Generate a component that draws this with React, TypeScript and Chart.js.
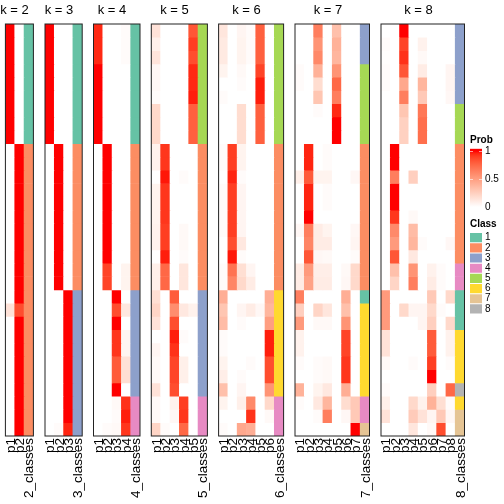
import React, { useEffect, useRef } from "react";
import { Chart, registerables } from "chart.js";

Chart.register(...registerables);

const FONT = "'Liberation Sans', Arial, sans-serif";
const classColors = ["#66C2A5", "#FC8D62", "#8DA0CB", "#E78AC3", "#A6D854", "#FFD92F", "#E5C494", "#B3B3B3"];
const classLabels = ["1", "2", "3", "4", "5", "6", "7", "8"];

const probK2 = [
  [1, 0], [1, 0], [1, 0], [1, 0], [1, 0], [1, 0], [1, 0], [1, 0], [1, 0],
  [0, 1], [0, 1], [0, 1], [0, 1], [0, 1], [0, 1], [0, 1], [0, 1], [0, 1], [0, 1], [0, 1], [0, 1],
  [0.15, 0.85],
  [0, 1], [0, 1], [0, 1], [0, 1], [0, 1], [0, 1], [0, 1], [0, 1], [0, 1],
];
const classK2 = [1, 1, 1, 1, 1, 1, 1, 1, 1, 2, 2, 2, 2, 2, 2, 2, 2, 2, 2, 2, 2, 2, 2, 2, 2, 2, 2, 2, 2, 2, 2];

const probK3 = [
  [1, 0, 0], [1, 0, 0], [1, 0, 0], [1, 0, 0], [1, 0, 0], [1, 0, 0], [1, 0, 0], [1, 0, 0], [1, 0, 0],
  [0, 1, 0], [0, 1, 0], [0, 1, 0], [0, 1, 0], [0, 1, 0], [0, 1, 0], [0, 1, 0], [0, 1, 0], [0, 1, 0], [0, 1, 0], [0, 1, 0],
  [0, 0, 1], [0, 0, 1], [0, 0, 1], [0, 0, 1], [0, 0, 1], [0, 0, 1], [0, 0, 1], [0, 0, 1], [0, 0, 1], [0, 0, 1],
  [0, 0.02, 0.96],
];
const classK3 = [1, 1, 1, 1, 1, 1, 1, 1, 1, 2, 2, 2, 2, 2, 2, 2, 2, 2, 2, 2, 3, 3, 3, 3, 3, 3, 3, 3, 3, 3, 3];

const probK4 = [
  [0.95, 0, 0, 0.02], [0.95, 0, 0, 0.02], [0.95, 0, 0, 0.02],
  [1, 0, 0, 0], [1, 0, 0, 0], [1, 0, 0, 0], [1, 0, 0, 0], [1, 0, 0, 0], [1, 0, 0, 0],
  [0, 1, 0, 0], [0, 1, 0, 0], [0, 1, 0, 0], [0, 1, 0, 0], [0, 1, 0, 0], [0, 1, 0, 0], [0, 1, 0, 0], [0, 1, 0, 0], [0, 1, 0, 0],
  [0, 0.88, 0, 0.06], [0, 0.88, 0, 0.06],
  [0, 0, 1, 0], [0, 0, 0.85, 0.12], [0, 0, 1, 0], [0, 0, 0.92, 0.05], [0, 0, 0.92, 0.05],
  [0, 0, 0.8, 0.15], [0, 0, 0.8, 0.17], [0, 0, 1, 0],
  [0, 0, 0.03, 0.93], [0, 0, 0.02, 0.97], [0, 0.02, 0.03, 0.92],
];
const classK4 = [1, 1, 1, 1, 1, 1, 1, 1, 1, 2, 2, 2, 2, 2, 2, 2, 2, 2, 2, 2, 3, 3, 3, 3, 3, 3, 3, 3, 4, 4, 4];

const probK5 = [
  [0.15, 0, 0, 0, 0.82], [0.08, 0, 0, 0, 0.9], [0.14, 0, 0, 0, 0.85],
  [0.04, 0, 0, 0, 0.95], [0.04, 0, 0, 0, 0.95], [0.02, 0, 0, 0, 0.97],
  [0.2, 0, 0, 0, 0.78], [0.2, 0, 0, 0, 0.78], [0.2, 0, 0, 0, 0.78],
  [0.07, 0.92, 0, 0, 0], [0.07, 0.92, 0, 0, 0], [0, 0.98, 0, 0.02, 0],
  [0.06, 0.92, 0, 0, 0], [0.06, 0.92, 0, 0, 0], [0.06, 0.92, 0, 0, 0],
  [0.07, 0.9, 0, 0.03, 0], [0.07, 0.9, 0, 0.03, 0],
  [0, 0.97, 0, 0.02, 0], [0.08, 0.75, 0, 0.13, 0], [0.08, 0.75, 0, 0.13, 0],
  [0.17, 0, 0.8, 0, 0], [0.22, 0, 0.58, 0.12, 0.07], [0.15, 0, 0.85, 0, 0],
  [0, 0, 0.97, 0.02, 0], [0.05, 0, 0.93, 0, 0], [0.03, 0, 0.88, 0.08, 0], [0.03, 0, 0.88, 0.08, 0],
  [0.15, 0, 0.85, 0, 0],
  [0.03, 0, 0.07, 0.9, 0], [0.03, 0, 0.04, 0.92, 0], [0.22, 0.02, 0, 0.75, 0],
];
const classK5 = [5, 5, 5, 5, 5, 5, 5, 5, 5, 2, 2, 2, 2, 2, 2, 2, 2, 2, 2, 2, 3, 3, 3, 3, 3, 3, 3, 3, 4, 4, 4];

const probK6 = [
  [0.13, 0, 0.05, 0.02, 0.78, 0], [0.11, 0, 0.06, 0.02, 0.78, 0], [0.11, 0, 0.06, 0.02, 0.78, 0],
  [0.06, 0, 0.03, 0, 0.88, 0], [0, 0, 0.02, 0, 0.97, 0], [0.02, 0, 0, 0, 0.97, 0],
  [0, 0, 0.18, 0, 0.78, 0], [0, 0, 0.18, 0, 0.78, 0], [0, 0, 0.18, 0, 0.78, 0],
  [0.02, 0.9, 0.06, 0, 0, 0], [0.02, 0.9, 0.06, 0, 0, 0], [0, 0.96, 0.02, 0, 0, 0],
  [0.02, 0.9, 0.05, 0, 0, 0], [0.02, 0.9, 0.05, 0, 0, 0], [0.02, 0.9, 0.05, 0, 0, 0], [0.02, 0.9, 0.05, 0, 0, 0],
  [0, 0.85, 0.12, 0, 0, 0], [0, 0.98, 0.02, 0, 0, 0],
  [0.02, 0.7, 0.17, 0.05, 0, 0], [0.02, 0.62, 0.2, 0.1, 0, 0],
  [0.42, 0, 0, 0, 0, 0.42], [0.3, 0, 0.05, 0.1, 0.04, 0.38], [0.35, 0, 0.02, 0, 0, 0.5],
  [0.02, 0, 0, 0, 0, 0.97], [0.02, 0, 0, 0, 0, 0.97], [0.06, 0, 0, 0.02, 0, 0.85], [0.09, 0, 0.02, 0, 0, 0.85],
  [0.33, 0, 0.05, 0, 0, 0.55],
  [0.06, 0, 0.08, 0.6, 0, 0.2], [0, 0, 0, 0.93, 0, 0.03], [0.02, 0, 0.45, 0.42, 0, 0],
];
const classK6 = [5, 5, 5, 5, 5, 5, 5, 5, 5, 2, 2, 2, 2, 2, 2, 2, 2, 2, 2, 2, 6, 6, 6, 6, 6, 6, 6, 6, 4, 4, 4];

const probK7 = [
  [0, 0, 0.65, 0, 0.33, 0, 0], [0, 0, 0.55, 0, 0.4, 0, 0], [0, 0, 0.6, 0, 0.38, 0, 0],
  [0.02, 0, 0.4, 0, 0.55, 0, 0], [0.02, 0, 0.18, 0, 0.75, 0, 0], [0, 0, 0.3, 0, 0.65, 0, 0],
  [0, 0, 0.02, 0, 0.95, 0, 0], [0, 0, 0, 0, 1, 0, 0], [0, 0, 0, 0, 1, 0, 0],
  [0, 0.96, 0, 0.02, 0, 0, 0], [0, 0.96, 0, 0.02, 0, 0, 0], [0.08, 0.8, 0.06, 0.06, 0, 0, 0.04],
  [0, 0.96, 0, 0.02, 0, 0, 0], [0, 0.96, 0, 0.02, 0, 0, 0], [0, 1, 0, 0, 0, 0, 0],
  [0.04, 0.65, 0.1, 0.06, 0, 0, 0.04], [0, 0.62, 0.1, 0.1, 0, 0, 0.05], [0, 0.82, 0.04, 0.03, 0, 0, 0.02],
  [0.1, 0.52, 0.09, 0.09, 0, 0.03, 0.2], [0.1, 0.48, 0.1, 0.1, 0, 0.04, 0.2],
  [0.65, 0, 0, 0, 0, 0.42, 0], [0.25, 0, 0.22, 0.13, 0, 0.33, 0], [0.52, 0, 0.03, 0.03, 0, 0.55, 0],
  [0.07, 0, 0, 0, 0, 0.88, 0], [0.07, 0, 0, 0, 0, 0.88, 0], [0.02, 0, 0.02, 0.03, 0, 0.92, 0], [0, 0, 0.02, 0.03, 0, 0.92, 0],
  [0.4, 0, 0.06, 0.12, 0, 0.42, 0],
  [0.02, 0, 0.12, 0.38, 0, 0.18, 0.28], [0, 0, 0.02, 0.65, 0, 0.04, 0.28], [0, 0, 0, 0, 0, 0, 1],
];
const classK7 = [3, 3, 3, 5, 5, 5, 5, 5, 5, 2, 2, 2, 2, 2, 2, 2, 2, 2, 2, 2, 1, 6, 6, 6, 6, 6, 6, 6, 4, 4, 7];

const probK8 = [
  [0, 0, 1, 0, 0, 0, 0, 0], [0.02, 0, 0.88, 0, 0.07, 0, 0, 0], [0.01, 0, 0.93, 0, 0.03, 0, 0, 0],
  [0.02, 0, 0.82, 0, 0.1, 0, 0, 0.05], [0.02, 0, 0.45, 0, 0.38, 0, 0, 0.05], [0, 0, 0.65, 0, 0.28, 0, 0, 0.04],
  [0, 0, 0.3, 0, 0.68, 0, 0, 0], [0, 0, 0.24, 0, 0.72, 0, 0, 0], [0, 0, 0.24, 0, 0.72, 0, 0, 0],
  [0, 1, 0, 0, 0, 0, 0, 0], [0, 1, 0, 0, 0, 0, 0, 0], [0, 0.65, 0, 0.25, 0, 0, 0, 0],
  [0, 1, 0, 0, 0, 0, 0, 0], [0, 1, 0, 0, 0, 0, 0, 0], [0, 0.92, 0, 0.03, 0, 0, 0, 0],
  [0, 0.6, 0, 0.35, 0, 0, 0, 0], [0, 0.52, 0, 0.38, 0.02, 0, 0, 0.04], [0, 0.82, 0, 0.12, 0, 0, 0, 0],
  [0, 0.33, 0, 0.55, 0, 0.07, 0.02, 0], [0, 0.22, 0, 0.65, 0, 0.1, 0.02, 0],
  [0.52, 0, 0, 0, 0, 0.28, 0, 0.2], [0.52, 0, 0.2, 0.05, 0.05, 0.2, 0.02, 0], [0.52, 0, 0, 0, 0.05, 0.25, 0, 0.2],
  [0.15, 0, 0, 0, 0, 0.8, 0, 0.07], [0.15, 0, 0, 0, 0, 0.8, 0, 0.07], [0.03, 0, 0, 0.02, 0, 0.9, 0, 0.02], [0, 0, 0, 0, 0, 1, 0, 0],
  [0.02, 0, 0, 0, 0, 0.25, 0, 0.75],
  [0.08, 0, 0, 0.2, 0.07, 0.4, 0.17, 0.02], [0.15, 0, 0, 0.27, 0.15, 0.05, 0.28, 0.04], [0, 0, 0, 0.13, 0, 0.03, 0.85, 0],
];
const classK8 = [3, 3, 3, 3, 3, 3, 5, 5, 5, 2, 2, 2, 2, 2, 2, 2, 2, 2, 4, 4, 1, 1, 1, 6, 6, 6, 6, 8, 6, 7, 7];

const panels = [
  { k: 2, prob: probK2, cls: classK2, left: 5.4, right: 33.4 },
  { k: 3, prob: probK3, cls: classK3, left: 45, right: 82.2 },
  { k: 4, prob: probK4, cls: classK4, left: 93.5, right: 140 },
  { k: 5, prob: probK5, cls: classK5, left: 151.3, right: 207.4 },
  { k: 6, prob: probK6, cls: classK6, left: 218.6, right: 283.6 },
  { k: 7, prob: probK7, cls: classK7, left: 295, right: 369.5 },
  { k: 8, prob: probK8, cls: classK8, left: 381, right: 464.5 },
];

// white -> red in CIE Lab, the interpolation of the heatmap's colour ramp
const toLab = (r: number, g: number, b: number) => {
  const f = (c: number) => {
    const v = c / 255;
    return v > 0.04045 ? Math.pow((v + 0.055) / 1.055, 2.4) : v / 12.92;
  };
  const [R, G, B] = [f(r), f(g), f(b)];
  const X = (0.4124 * R + 0.3576 * G + 0.1805 * B) / 0.95047;
  const Y = 0.2126 * R + 0.7152 * G + 0.0722 * B;
  const Z = (0.0193 * R + 0.1192 * G + 0.9505 * B) / 1.08883;
  const h = (t: number) => (t > 0.008856 ? Math.cbrt(t) : 7.787 * t + 16 / 116);
  return [116 * h(Y) - 16, 500 * (h(X) - h(Y)), 200 * (h(Y) - h(Z))];
};
const white = toLab(255, 255, 255);
const red = toLab(255, 0, 0);
const ramp = (t: number) => {
  const L = white[0] + (red[0] - white[0]) * t;
  const a = white[1] + (red[1] - white[1]) * t;
  const b = white[2] + (red[2] - white[2]) * t;
  const fy = (L + 16) / 116;
  const inv = (v: number) => (v * v * v > 0.008856 ? v * v * v : (v - 16 / 116) / 7.787);
  const X = inv(a / 500 + fy) * 0.95047;
  const Y = inv(fy);
  const Z = inv(fy - b / 200) * 1.08883;
  const lin = [
    3.2406 * X - 1.5372 * Y - 0.4986 * Z,
    -0.9689 * X + 1.8758 * Y + 0.0415 * Z,
    0.0557 * X - 0.204 * Y + 1.057 * Z,
  ];
  const out = lin.map((c) => {
    const v = c <= 0.0031308 ? 12.92 * c : 1.055 * Math.pow(Math.max(c, 0), 1 / 2.4) - 0.055;
    return Math.round(Math.min(1, Math.max(0, v)) * 255);
  });
  return `rgb(${out[0]},${out[1]},${out[2]})`;
};

const frame = {
  id: "frame",
  afterDraw(chart: any) {
    const { ctx, chartArea: a } = chart;
    ctx.save();
    ctx.strokeStyle = "#222222";
    ctx.lineWidth = 1;
    ctx.strokeRect(a.left, a.top, a.right - a.left, a.bottom - a.top);
    ctx.restore();
  },
};

const PAD_RIGHT = 20;
const PAD_LEFT = 29;
const TOP = 24;
const BOTTOM = 436;

const canvasBox = (p: (typeof panels)[number]) => {
  const left = Math.floor(p.left - PAD_LEFT);
  const right = Math.round(p.right + PAD_RIGHT);
  return { left, width: right - left, padLeft: p.left - left, padRight: right - p.right };
};

function makePanel(canvas: HTMLCanvasElement, p: (typeof panels)[number]) {
  const cols = p.prob[0].length;
  const box = canvasBox(p);
  const labels = [...Array.from({ length: cols }, (_, i) => `p${i + 1}`), `${p.k}_classes`];
  const datasets = p.prob.map((row, r) => ({
    data: labels.map(() => 1),
    backgroundColor: [...row.map(ramp), classColors[p.cls[r] - 1]],
    stack: "rows",
    barPercentage: 1,
    categoryPercentage: 1,
    borderWidth: 0,
  }));
  return new Chart(canvas, {
    type: "bar",
    data: { labels, datasets },
    plugins: [frame],
    options: {
      animation: false,
      responsive: false,
      events: [],
      plugins: {
        legend: { display: false },
        tooltip: { enabled: false },
        title: {
          display: true,
          text: `k = ${p.k}`,
          color: "#000000",
          font: { family: FONT, size: 13, weight: "normal", lineHeight: 1.2 },
          padding: { top: 3, bottom: TOP - 3 - 15.6 },
        },
      },
      scales: {
        x: {
          stacked: true,
          grid: { display: false, drawTicks: false },
          border: { display: false },
          afterFit: (s: any) => {
            s.height = 504 - BOTTOM;
          },
          ticks: {
            autoSkip: false,
            minRotation: 90,
            maxRotation: 90,
            padding: 2,
            labelOffset: 1,
            color: "#000000",
            font: { family: FONT, size: 13.5 },
          },
        },
        y: {
          stacked: true,
          reverse: true,
          min: 0,
          max: p.prob.length,
          grid: { display: false, drawTicks: false },
          border: { display: false },
          ticks: { display: false },
          afterFit: (s: any) => {
            s.width = box.padLeft;
          },
        },
        gutter: {
          axis: "y",
          position: "right",
          grid: { display: false, drawTicks: false },
          border: { display: false },
          ticks: { display: false },
          afterFit: (s: any) => {
            s.width = box.padRight;
          },
        },
      },
    },
  } as any);
}

function makeProbLegend(canvas: HTMLCanvasElement) {
  const gradient = {
    id: "gradientBar",
    beforeDatasetsDraw(chart: any) {
      const y = chart.scales.y;
      const g = chart.ctx.createLinearGradient(0, y.getPixelForValue(0), 0, y.getPixelForValue(1));
      for (let i = 0; i <= 20; i++) g.addColorStop(i / 20, ramp(i / 20));
      chart.getDatasetMeta(0).data[0].options.backgroundColor = g;
    },
    afterDatasetsDraw(chart: any) {
      const { ctx, chartArea: a, scales } = chart;
      ctx.save();
      ctx.strokeStyle = "#ffffff";
      ctx.globalAlpha = 0.6;
      ctx.lineWidth = 1;
      [0.5, 1].forEach((v) => {
        const y = Math.round(scales.y.getPixelForValue(v)) + 0.5;
        ctx.beginPath();
        ctx.moveTo(a.left, y);
        ctx.lineTo(a.left + 3, y);
        ctx.moveTo(a.right - 3, y);
        ctx.lineTo(a.right, y);
        ctx.stroke();
      });
      ctx.restore();
    },
  };
  return new Chart(canvas, {
    type: "bar",
    data: { labels: ["Prob"], datasets: [{ data: [1.04], backgroundColor: "#ff0000", barPercentage: 1, categoryPercentage: 1 }] },
    plugins: [gradient],
    options: {
      animation: false,
      responsive: false,
      events: [],
      layout: { padding: { bottom: 8 } },
      plugins: {
        legend: { display: false },
        tooltip: { enabled: false },
        title: {
          display: true,
          text: "Prob",
          align: "start",
          color: "#000000",
          font: { family: FONT, size: 10, weight: "bold", lineHeight: 1.2 },
          padding: { top: 0, bottom: 2.7 },
        },
      },
      scales: {
        x: { display: false },
        y: {
          position: "right",
          min: 0,
          max: 1.04,
          grid: { display: false, drawTicks: false },
          border: { display: false },
          afterFit: (s: any) => {
            s.width = 22;
          },
          afterBuildTicks: (s: any) => {
            s.ticks = [{ value: 0 }, { value: 0.5 }, { value: 1 }];
          },
          ticks: {
            padding: 3,
            color: "#000000",
            font: { family: FONT, size: 10 },
            callback: (v: number) => String(v),
          },
        },
      },
    },
  } as any);
}

function makeClassLegend(canvas: HTMLCanvasElement) {
  return new Chart(canvas, {
    type: "bar",
    data: {
      labels: classLabels,
      datasets: [{ data: classLabels.map(() => 1), backgroundColor: classColors, barPercentage: 0.9, categoryPercentage: 1 }],
    },
    options: {
      indexAxis: "y",
      animation: false,
      responsive: false,
      events: [],
      plugins: {
        legend: { display: false },
        tooltip: { enabled: false },
        title: {
          display: true,
          text: "Class",
          align: "start",
          color: "#000000",
          font: { family: FONT, size: 10, weight: "bold", lineHeight: 1.2 },
          padding: { top: 0, bottom: 2.6 },
        },
      },
      scales: {
        x: { display: false, min: 0, max: 1 },
        y: {
          position: "right",
          grid: { display: false, drawTicks: false },
          border: { display: false },
          afterFit: (s: any) => {
            s.width = 22;
          },
          ticks: {
            autoSkip: false,
            padding: 3,
            color: "#000000",
            font: { family: FONT, size: 10 },
          },
        },
      },
    },
  } as any);
}

const abs = (left: number, top: number): React.CSSProperties => ({ position: "absolute", left, top, display: "block" });

export default function App() {
  const panelRefs = useRef<(HTMLCanvasElement | null)[]>([]);
  const probRef = useRef<HTMLCanvasElement | null>(null);
  const classRef = useRef<HTMLCanvasElement | null>(null);

  useEffect(() => {
    const charts = panels.map((p, i) => makePanel(panelRefs.current[i]!, p));
    charts.push(makeProbLegend(probRef.current!));
    charts.push(makeClassLegend(classRef.current!));
    return () => charts.forEach((c) => c.destroy());
  }, []);

  return (
    <div style={{ position: "absolute", left: 0, top: 0, width: 504, height: 504, overflow: "hidden", background: "#ffffff" }}>
      {panels.map((p, i) => {
        const box = canvasBox(p);
        return (
          <canvas
            key={p.k}
            ref={(el) => {
              panelRefs.current[i] = el;
            }}
            width={box.width}
            height={504}
            style={abs(box.left, 0)}
          />
        );
      })}
      <canvas ref={probRef} width={34} height={82} style={abs(470, 134)} />
      <canvas ref={classRef} width={34} height={105} style={abs(470, 218)} />
    </div>
  );
}
